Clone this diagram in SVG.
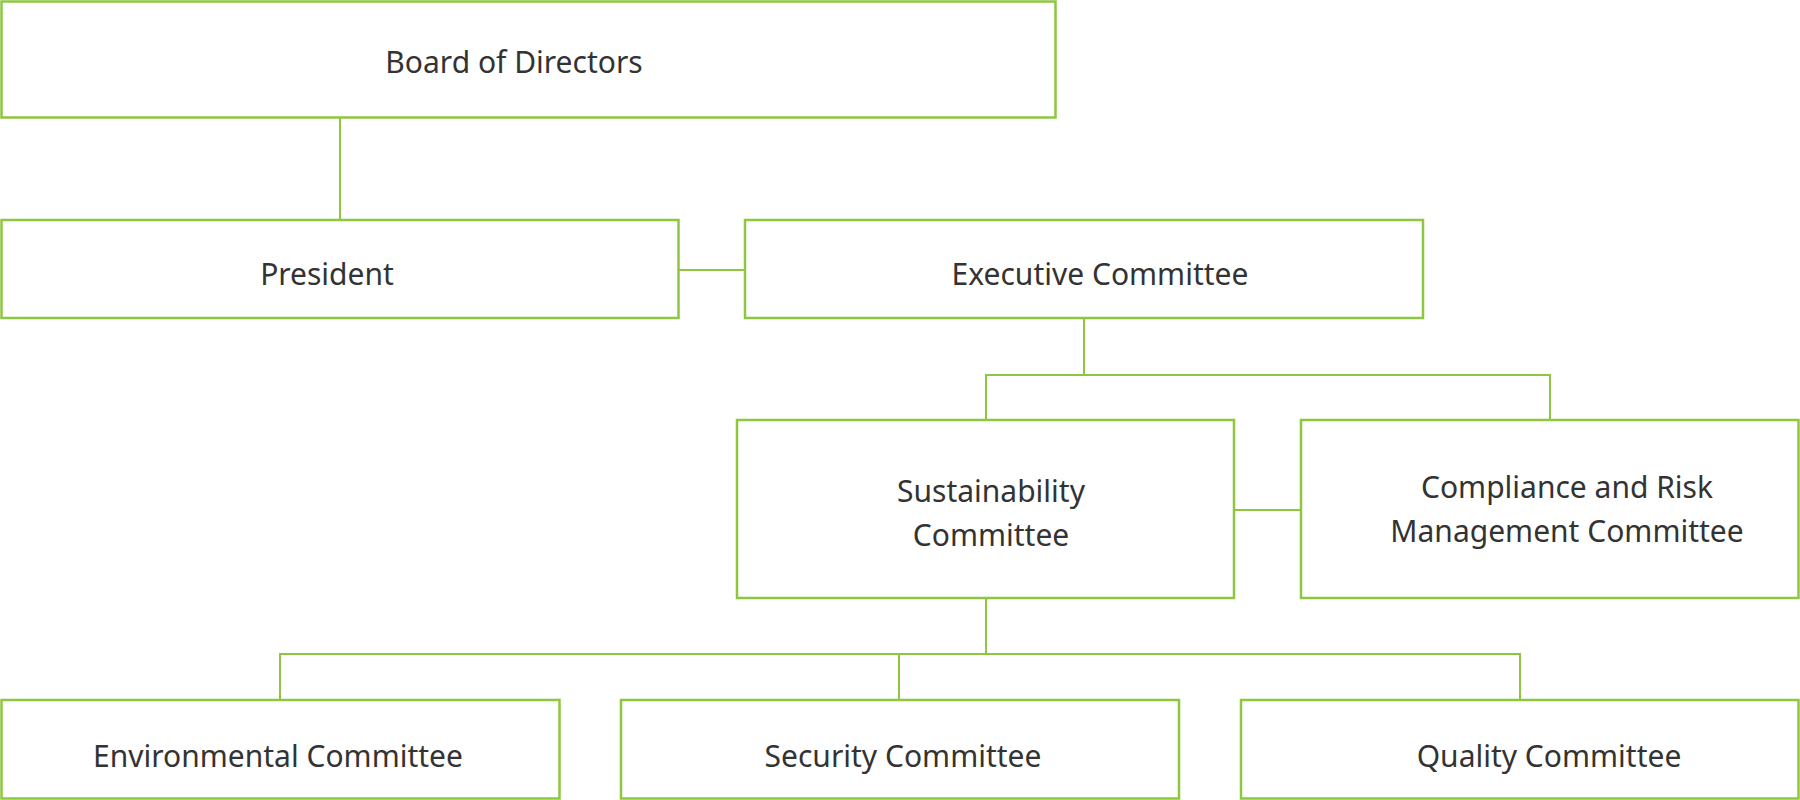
<svg xmlns="http://www.w3.org/2000/svg" width="1800" height="800" viewBox="0 0 1800 800">
<style>
.n rect{fill:#fff;stroke:#8dc63f;stroke-width:2.5}
.c line,.c polyline{stroke:#8dc63f;stroke-width:2;fill:none}
text{font-family:"Noto Sans",sans-serif;font-size:30px;fill:#333;text-anchor:middle}
</style>
<rect width="1800" height="800" fill="#fff"/>
<g class="c">
<line x1="340" y1="118" x2="340" y2="220"/>
<line x1="678" y1="270" x2="745" y2="270"/>
<line x1="1084" y1="318" x2="1084" y2="375"/>
<polyline points="986,420 986,375 1550,375 1550,420"/>
<line x1="1234" y1="510" x2="1301" y2="510"/>
<line x1="986" y1="598" x2="986" y2="654"/>
<polyline points="280,700 280,654 1520,654 1520,700"/>
<line x1="899" y1="654" x2="899" y2="700"/>
</g>
<g class="n">
<g id="board"><rect x="1.5" y="1.5" width="1054" height="116"/><text x="514" y="73">Board of Directors</text></g>
<g id="president"><rect x="1.5" y="220" width="677" height="98"/><text x="327" y="285">President</text></g>
<g id="exec"><rect x="745" y="220" width="678" height="98"/><text x="1100" y="285">Executive Committee</text></g>
<g id="sust"><rect x="737" y="420" width="497" height="178"/><text x="991" y="502">Sustainability</text><text x="991" y="546">Committee</text></g>
<g id="comp"><rect x="1301" y="420" width="497.5" height="178"/><text x="1567" y="498">Compliance and Risk</text><text x="1567" y="542">Management Committee</text></g>
<g id="env"><rect x="1.5" y="700" width="558" height="98.5"/><text x="278" y="767">Environmental Committee</text></g>
<g id="sec"><rect x="621" y="700" width="558" height="98.5"/><text x="903" y="767">Security Committee</text></g>
<g id="qual"><rect x="1241" y="700" width="557.5" height="98.5"/><text x="1549" y="767">Quality Committee</text></g>
</g>
</svg>
